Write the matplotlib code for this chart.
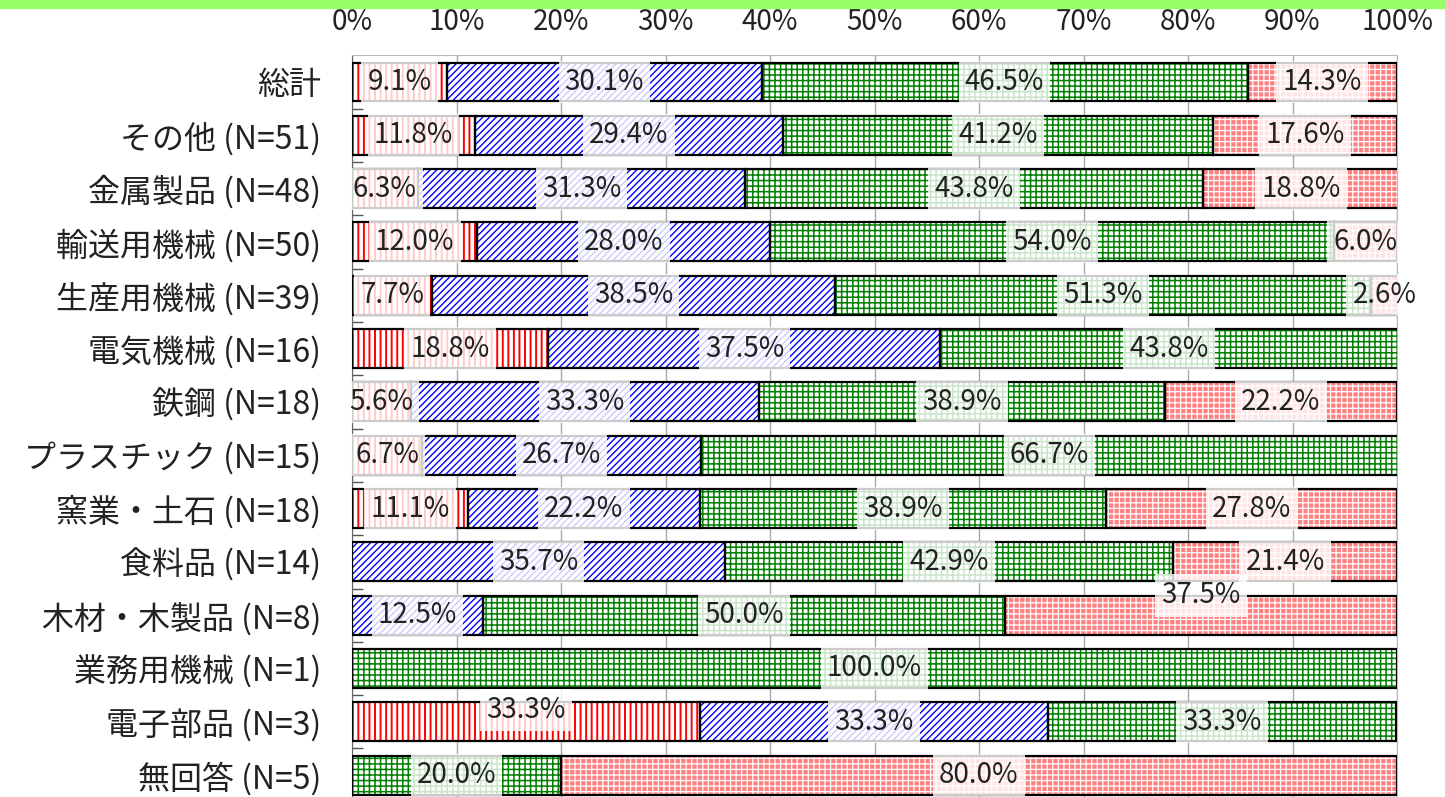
"""業種別の回答構成比（100%積み上げ横棒）。"""

import matplotlib

matplotlib.use("Agg")
import matplotlib.pyplot as plt
import numpy as np
from matplotlib.patches import Rectangle

plt.rcParams["font.family"] = ["Noto Sans CJK JP", "DejaVu Sans"]

categories = [
    "総計",
    "その他 (N=51)",
    "金属製品 (N=48)",
    "輸送用機械 (N=50)",
    "生産用機械 (N=39)",
    "電気機械 (N=16)",
    "鉄鋼 (N=18)",
    "プラスチック (N=15)",
    "窯業・土石 (N=18)",
    "食料品 (N=14)",
    "木材・木製品 (N=8)",
    "業務用機械 (N=1)",
    "電子部品 (N=3)",
    "無回答 (N=5)",
]
s1 = [9.1, 11.8, 6.3, 12.0, 7.7, 18.8, 5.6, 6.7, 11.1, 0, 0, 0, 33.3, 0]
s2 = [30.1, 29.4, 31.3, 28.0, 38.5, 37.5, 33.3, 26.7, 22.2, 35.7, 12.5, 0, 33.3, 0]
s3 = [46.5, 41.2, 43.8, 54.0, 51.3, 43.8, 38.9, 66.7, 38.9, 42.9, 50.0, 100.0, 33.3, 20.0]
s4 = [14.3, 17.6, 18.8, 6.0, 2.6, 0, 22.2, 0, 27.8, 21.4, 37.5, 0, 0, 80.0]
ticks = list(range(0, 101, 10))

series = [s1, s2, s3, s4]
face_colors = ["white", "white", "white", "#ff8080"]
hatch_colors = ["#ff0000", "#0000ff", "#008000", "white"]
hatches = ["|||", "/////", "+++", "+++"]
hatch_lws = [1.4, 1.0, 1.1, 0.9]
# Excel がずらして置いたラベル (行, 系列) -> y方向のずれ
label_nudge = {(10, 3): -0.37, (12, 0): -0.22}

fig = plt.figure(figsize=(14.45, 7.97), dpi=100)
fig.patches.append(Rectangle((0, 1 - 8 / 797), 1, 8 / 797,
                             transform=fig.transFigure, color="#99ff66", zorder=0))
ax = fig.add_axes([352 / 1445, 0, 1045 / 1445, 1 - 55 / 797])

y = np.arange(len(categories))
left = np.zeros(len(categories))
h = 0.73
for si, (vals, fc, hc, ht, hlw) in enumerate(
        zip(series, face_colors, hatch_colors, hatches, hatch_lws)):
    vals = np.array(vals, dtype=float)
    m = vals > 0
    plt.rcParams["hatch.linewidth"] = hlw
    bars = ax.barh(y[m], vals[m], left=left[m], height=h, color=fc, edgecolor=hc,
                   hatch=ht, linewidth=0, zorder=2)
    for p in bars:
        if hasattr(p, "set_hatch_linewidth"):
            p.set_hatch_linewidth(hlw)
    ax.barh(y[m], vals[m], left=left[m], height=h, fill=False,
            edgecolor="black", linewidth=1.6, zorder=3)
    for yi, v, l in zip(y, vals, left):
        if v > 0:
            dy = label_nudge.get((yi, si), 0)
            ax.text(l + v / 2, yi + dy, f"{v:.1f}%", ha="center", va="center",
                    fontsize=20, color="#222222", zorder=4,
                    bbox=dict(boxstyle="square,pad=0.22", fc="white",
                              ec="none", alpha=0.8))
    left += vals

ax.set_xlim(0, 100)
ax.set_ylim(13.41, -0.506)
ax.xaxis.tick_top()
ax.set_xticks(ticks, [f"{t}%" for t in ticks])
ax.tick_params(axis="x", length=0, pad=13, labelsize=20, labelcolor="#222222")
ax.set_yticks(y, categories)
ax.tick_params(axis="y", length=0, pad=22, labelsize=23, labelcolor="#222222")
ax.set_yticks(np.arange(0.5, len(categories) - 0.5, 1), minor=True)
ax.tick_params(axis="y", which="minor", direction="in", length=8,
               color="#555555", width=1)
ax.grid(axis="x", color="#aaaaaa", linewidth=1, zorder=0)
ax.set_axisbelow(True)
for side in ["top", "right", "bottom"]:
    ax.spines[side].set_color("#bbbbbb")
ax.spines["left"].set_color("#666666")

fig.savefig("out.png", dpi=100)
plt.close(fig)
